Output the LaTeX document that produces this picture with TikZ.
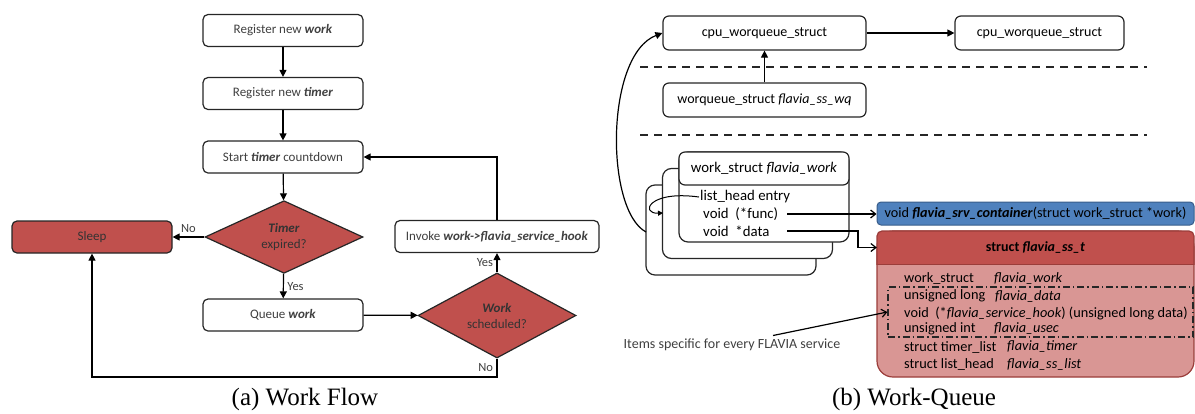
\documentclass[tikz,border=0pt]{standalone}
\usepackage{fontspec}
\setmainfont{Carlito}
\newfontfamily\capfont{Liberation Serif}
\usetikzlibrary{shapes.geometric,arrows.meta,calc}

\definecolor{flowred}{HTML}{C0504D}
\definecolor{ssbody}{HTML}{D99694}
\definecolor{ssline}{HTML}{9B3D3A}
\definecolor{srvblue}{HTML}{4F81BD}
\definecolor{srvline}{HTML}{385D8A}
\definecolor{flowtext}{HTML}{404040}

\newcommand{\bfit}[1]{\textbf{\textit{#1}}}

\begin{document}
\begin{tikzpicture}[x=1pt, y=-1pt,
    flowbox/.style={draw=black!85, line width=1.2pt, rounded corners=5pt, fill=white,
        minimum width=160pt, minimum height=32pt, inner sep=0pt,
        font=\fontsize{13}{15}\selectfont, text=flowtext},
    decision/.style={diamond, draw=black!85, line width=1.2pt, fill=flowred,
        minimum width=158pt, minimum height=63pt, inner sep=0pt, align=center,
        font=\fontsize{13}{16}\selectfont, text=black!80},
    flow/.style={line width=1.2pt, -{Triangle[length=7pt,width=7pt]}},
    ptr/.style={line width=1.2pt, -{Straight Barb[length=5pt,width=8pt]}},
    lbl/.style={font=\fontsize{12.5}{15}\selectfont, text=flowtext},
    structbox/.style={draw=black!85, line width=1.2pt, rounded corners=6pt, fill=white,
        minimum height=34pt, inner sep=0pt, font=\fontsize{14}{16}\selectfont},
    structline/.style={draw=black!85, line width=1.2pt, rounded corners=9pt},
    field/.style={anchor=west, inner sep=1pt, font=\fontsize{14.3}{16}\selectfont},
    caption/.style={anchor=base, font=\capfont\fontsize{25}{30}\selectfont}
]
\useasboundingbox (0,0) rectangle (1195,413);

% (a) work flow
\node[flowbox] (regwork) at (283,30.5) {Register new \bfit{work}};
\node[flowbox] (regtimer) at (283,93.5) {Register new \bfit{timer}};
\node[flowbox] (countdown) at (283,157) {Start \bfit{timer} countdown};
\node[decision] (expired) at (284,237) {\bfit{Timer}\\expired?};
\node[flowbox, fill=flowred, text=black!80] (sleep) at (92,237) {Sleep};
\node[flowbox] (queue) at (283,315) {Queue \bfit{work}};
\node[decision] (scheduled) at (497,315.5) {\bfit{Work}\\scheduled?};
\node[flowbox, minimum width=204pt] (invoke) at (497,236.5) {Invoke \bfit{work->flavia\_service\_hook}};
\coordinate (loop) at (497,377);

\foreach \a/\b in {regwork/regtimer, regtimer/countdown, countdown/expired, queue/scheduled}
    \draw[flow] (\a) -- (\b);
\draw[flow] (expired) -- node[lbl, above] (noexp) {No} (sleep);
\draw[flow] (expired) -- node[lbl, right] (yesexp) {Yes} (queue);
\draw[flow] (scheduled) -- node[lbl, left] (yessched) {Yes} (invoke);
\draw[flow] (invoke.north) |- (countdown.east);
\draw[flow] (scheduled.south) -- node[lbl, left] (nosched) {No} (loop) -| (sleep.south);

\node[caption] (capa) at (305,405) {(a) Work Flow};

% (b) work-queue
\node[structbox, minimum width=203pt] (cpu) at (764.5,33) {cpu\_worqueue\_struct};
\node[structbox, minimum width=169pt] (cpunext) at (1039.5,33) {cpu\_worqueue\_struct};
\node[structbox, minimum width=203pt] (wq) at (764.5,100) {worqueue\_struct \textit{flavia\_ss\_wq}};

\foreach \y in {67,135}
    \draw[line width=1.5pt, black!85, dash pattern=on 8pt off 6pt] (640,\y) -- (1147,\y);

\draw[flow] (cpu) -- (cpunext);
\draw[flow] (wq) -- (cpu);

% stacked work_struct
\foreach \d in {33,16.5}
    \draw[structline, fill=white] ({679-\d},{152+\d}) rectangle ({849-\d},{242+\d});
\draw[structline, fill=white] (679,152) rectangle (849,242);
\node[structbox, minimum width=170pt, minimum height=33pt, font=\fontsize{14.8}{17}\selectfont] (ws) at (764,168.5) {work\_struct \textit{flavia\_work}};
\node[field, font=\fontsize{14.8}{17}\selectfont] (listhead) at (699,197) {list\_head~entry};
\node[field, font=\fontsize{14.8}{17}\selectfont] (func) at (702,214) {void~~(*func)};
\node[field, font=\fontsize{14.8}{17}\selectfont] (data) at (702,231) {void~~*data};

\coordinate (backleft) at (646,232);
\coordinate (midleft) at (663,213);
\coordinate (ptrx) at (787,0);
\coordinate (bend) at (858,231);
\draw[flow] (backleft) .. controls (605,210) and (605,55) .. (cpu.west);
\draw[line width=1pt, -{Triangle[length=5pt,width=5pt]}] (listhead.west) .. controls (648,190) and (640,214) .. (midleft);

% service container and flavia_ss_t
\node[draw=srvline, fill=srvblue, line width=1pt, rounded corners=4pt, minimum width=317pt,
    minimum height=23pt, inner sep=0pt, font=\fontsize{14.2}{16}\selectfont]
    (srv) at (1035.5,213.5) {void \bfit{flavia\_srv\_container}(struct work\_struct *work)};

\draw[draw=ssline, line width=1.2pt, fill=ssbody, rounded corners=16pt] (877,231) rectangle (1194,377);
\begin{scope}
    \clip (870,224) rectangle (1200,264);
    \draw[draw=ssline, line width=1.2pt, fill=flowred, rounded corners=5pt] (877,231) rectangle (1194,290);
\end{scope}
\draw[ssline, line width=1pt] (877,264) -- (1194,264);
\node[font=\fontsize{14}{16}\selectfont\bfseries, minimum width=317pt] (hdr) at (1035.5,247.5) {struct \textit{flavia\_ss\_t}};

\foreach \y/\a/\xb/\b [count=\i] in {
    278/work\_struct/993/flavia\_work,
    296/unsigned long/994/flavia\_data,
    313/{void~~(*\textit{flavia\_service\_hook})~(unsigned long data)}/994/,
    329/unsigned int/993/flavia\_usec,
    347/struct timer\_list/1006/flavia\_timer,
    364/struct list\_head/1006/flavia\_ss\_list}
{
    \node[field] (name\i) at (903,\y) {\a};
    \node[field] (type\i) at (\xb,\y) {\textit{\b}};
}
\node[draw=black!85, line width=1.2pt, dash pattern=on 7pt off 3pt on 1.5pt off 3pt,
    minimum width=305pt, minimum height=50pt] (spec) at (1040.5,312) {};

\draw[ptr] (func.east -| ptrx) -- (func.east -| srv.west);
\draw[ptr] (data.east -| ptrx) -- (bend) |- (hdr.west);

\node[font=\fontsize{14}{16}\selectfont, text=flowtext] (items) at (732,345) {Items specific for every FLAVIA service};
\draw[ptr] ([xshift=41pt]items.north) -- (spec.west);

\node[caption] (capb) at (914,405) {(b) Work-Queue};
\end{tikzpicture}
\end{document}
